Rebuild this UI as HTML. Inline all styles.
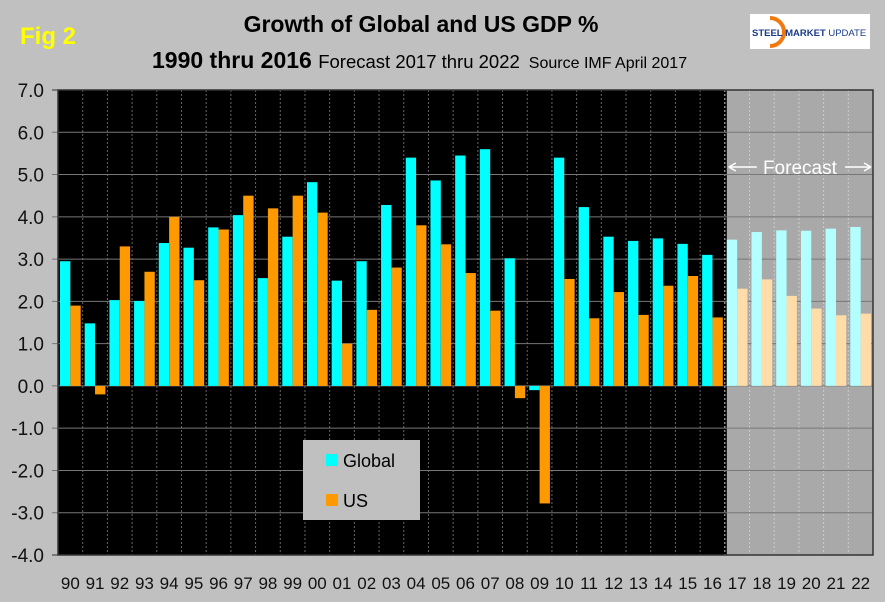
<!DOCTYPE html>
<html><head><meta charset="utf-8"><style>
body{margin:0;background:#c0c0c0;}
svg{display:block;font-family:"Liberation Sans",Arial,sans-serif;}
</style></head><body>
<svg id="chart" width="885" height="602" xmlns="http://www.w3.org/2000/svg">
<rect x="0" y="0" width="885" height="602" fill="#c0c0c0"/>
<text x="20" y="44" font-size="24" font-weight="bold" fill="#ffff00">Fig 2</text>
<text x="421" y="32" font-size="23" font-weight="bold" fill="#000" text-anchor="middle">Growth of Global and US GDP %</text>
<text x="152" y="68" font-size="23" font-weight="bold" fill="#000">1990 thru 2016 <tspan font-size="18.5" font-weight="normal">Forecast 2017 thru 2022</tspan><tspan font-size="16" font-weight="normal" dx="9">Source IMF April 2017</tspan></text>
<g>
<rect x="750" y="14" width="120" height="35" fill="#fff"/>
<path d="M770 18 A14 14 0 1 1 770 46" fill="none" stroke="#f07a10" stroke-width="4"/>
<text x="752" y="36" font-size="9.5" font-weight="bold" fill="#1a3a8a">STEEL MARKET <tspan font-weight="normal">UPDATE</tspan></text>
</g>
<g id="plot"></g>
</svg>
<script>
const categories=["90","91","92","93","94","95","96","97","98","99","00","01","02","03","04","05","06","07","08","09","10","11","12","13","14","15","16","17","18","19","20","21","22"];
const globalVals=[2.95,1.48,2.03,2.01,3.38,3.27,3.75,4.04,2.55,3.53,4.82,2.49,2.95,4.28,5.4,4.86,5.45,5.6,3.02,-0.1,5.4,4.23,3.53,3.43,3.49,3.36,3.1,3.46,3.64,3.68,3.67,3.72,3.76];
const usVals=[1.9,-0.2,3.3,2.7,4.0,2.5,3.7,4.5,4.2,4.5,4.1,1.0,1.8,2.8,3.8,3.35,2.67,1.78,-0.29,-2.78,2.53,1.6,2.22,1.68,2.37,2.6,1.62,2.3,2.52,2.13,1.83,1.67,1.71];
const yTicks=[7,6,5,4,3,2,1,0,-1,-2,-3,-4];
const forecastStart=27;
const NS="http://www.w3.org/2000/svg";
const L=58,R=873,T=90,B=555,ymax=7,ymin=-4;
const bw=(R-L)/categories.length;
function y(v){return T+(ymax-v)/(ymax-ymin)*(B-T);}
function x(i){return L+i*bw;}
const g=document.getElementById('plot');
function mk(tag,attrs){const e=document.createElementNS(NS,tag);for(const k in attrs)e.setAttribute(k,attrs[k]);g.appendChild(e);return e;}
let e;
e=mk('rect',{x:L,y:T,width:R-L,height:B-T,fill:'#000'});


e=mk('rect',{x:x(forecastStart)+2,y:T,width:R-x(forecastStart)-2,height:B-T,fill:'#a9a9a9'});


for(let i=1;i<categories.length;i++){
 e=mk('line',{x1:x(i),x2:x(i),y1:T,y2:B,stroke:i>=forecastStart?'#ccc':'#666','stroke-dasharray':'2,2','stroke-width':1});
 
 
}
yTicks.forEach(t=>{
 e=mk('line',{x1:L-6,x2:R,y1:y(t),y2:y(t),stroke:t===ymin||t===ymax?'#333':'#777','stroke-width':1});
 
 
 e=mk('text',{x:L-14,y:y(t)+7,'font-size':19,'text-anchor':'end',fill:'#111'});
 e.textContent=t.toFixed(1);
 
 
});
categories.forEach((c,i)=>{
 const f=i>=forecastStart;
 const gv=globalVals[i],uv=usVals[i];
 e=mk('rect',{x:x(i)+2,y:Math.min(y(gv),y(0)),width:bw/2-2,height:Math.abs(y(gv)-y(0)),fill:f?'#b3ffff':'#00ffff'});
 
 
 e=mk('rect',{x:x(i)+bw/2,y:Math.min(y(uv),y(0)),width:bw/2-2,height:Math.abs(y(uv)-y(0)),fill:f?'#ffdca8':'#ff9900'});
 
 
 e=mk('text',{x:x(i)+bw/2,y:589,'font-size':17,'text-anchor':'middle',fill:'#111'});
 e.textContent=c;
 
 
});
e=mk('rect',{x:L,y:T,width:R-L,height:B-T,fill:'none',stroke:'#333','stroke-width':1.5});


const fx=x(forecastStart)+2,fy=167;
e=mk('text',{x:(fx+R)/2,y:fy+7,'font-size':19,'text-anchor':'middle',fill:'#fff'});
e.textContent='Forecast';


e=mk('path',{d:`M${fx+2} ${fy} L${fx+30} ${fy} M${fx+2} ${fy} l7 -4 M${fx+2} ${fy} l7 4 M${R-28} ${fy} L${R-2} ${fy} M${R-2} ${fy} l-7 -4 M${R-2} ${fy} l-7 4`,stroke:'#fff','stroke-width':1.5,fill:'none'});


e=mk('rect',{x:303,y:440,width:117,height:80,fill:'#c0c0c0'});


e=mk('rect',{x:326,y:454,width:12,height:12,fill:'#00ffff'});


e=mk('text',{x:343,y:467,'font-size':18,fill:'#000'});
e.textContent='Global';


e=mk('rect',{x:326,y:494,width:12,height:12,fill:'#ff9900'});


e=mk('text',{x:343,y:507,'font-size':18,fill:'#000'});
e.textContent='US';


</script>
</body></html>
